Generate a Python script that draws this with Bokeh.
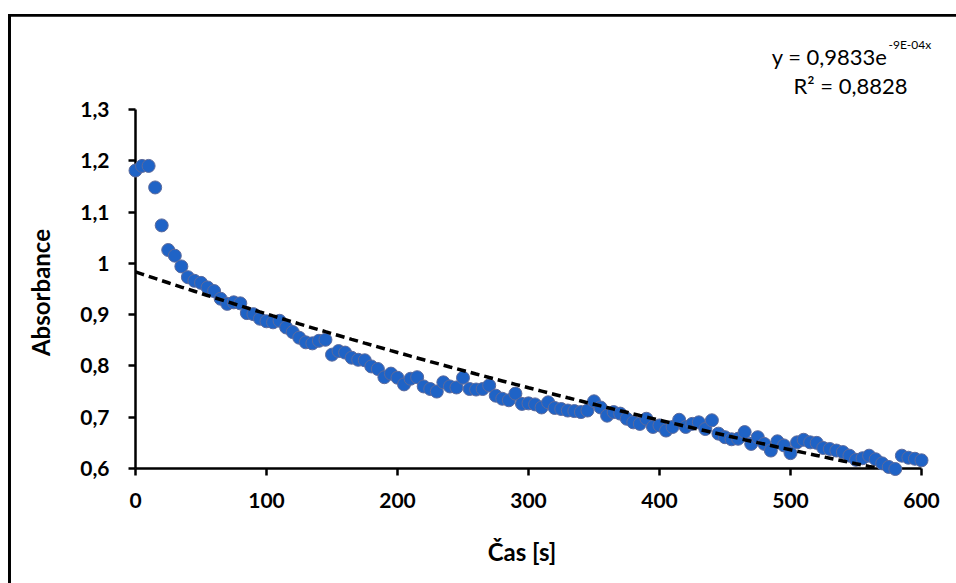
import math
import numpy as np
from bokeh.plotting import figure
from bokeh.models import Range1d, FixedTicker, Label, BoxAnnotation
from bokeh.embed import file_html
from bokeh.resources import INLINE

# ---- data ----
time_s = list(range(0, 601, 5))
absorbance = [
    1.181, 1.190, 1.190, 1.148, 1.074, 1.026, 1.015, 0.994, 0.973, 0.966,
    0.962, 0.953, 0.946, 0.931, 0.921, 0.924, 0.922, 0.903, 0.901, 0.892,
    0.887, 0.885, 0.888, 0.875, 0.866, 0.855, 0.846, 0.844, 0.849, 0.851,
    0.822, 0.829, 0.826, 0.816, 0.812, 0.811, 0.799, 0.794, 0.778, 0.785,
    0.777, 0.764, 0.775, 0.778, 0.760, 0.755, 0.750, 0.768, 0.760, 0.758,
    0.777, 0.755, 0.754, 0.755, 0.762, 0.742, 0.736, 0.733, 0.746, 0.726,
    0.727, 0.725, 0.719, 0.729, 0.718, 0.716, 0.713, 0.712, 0.710, 0.713,
    0.731, 0.719, 0.703, 0.710, 0.707, 0.697, 0.690, 0.687, 0.697, 0.681,
    0.684, 0.674, 0.681, 0.695, 0.681, 0.687, 0.690, 0.677, 0.694, 0.668,
    0.661, 0.657, 0.658, 0.671, 0.648, 0.661, 0.648, 0.635, 0.653, 0.645,
    0.630, 0.651, 0.656, 0.651, 0.650, 0.640, 0.638, 0.635, 0.632, 0.625,
    0.617, 0.620, 0.625, 0.618, 0.610, 0.603, 0.599, 0.625, 0.621, 0.619,
    0.616,
]
x_ticks = [0, 100, 200, 300, 400, 500, 600]
x_tick_labels = ["0", "100", "200", "300", "400", "500", "600"]
y_ticks = [0.6, 0.7, 0.8, 0.9, 1.0, 1.1, 1.2, 1.3]
y_tick_labels = ["0,6", "0,7", "0,8", "0,9", "1", "1,1", "1,2", "1,3"]
x_axis_bounds = (0, 600)
y_axis_bounds = (0.6, 1.3)
fit_a = 0.9833
fit_k = 0.00087
equation_main = "y = 0,9833e"
equation_exp = "-9E-04x"
r2_text = "R\u00b2 = 0,8828"
x_title = "\u010cas [s]"
y_title = "Absorbance"

FONT = "Lato"
W, H = 956, 583
PX_X = 1.31      # pixels per second
PX_Y = 512.86    # pixels per absorbance unit
X_START = -135 / PX_X
X_END = X_START + W / PX_X
Y_END = 0.6 + 468 / PX_Y
Y_START = Y_END - H / PX_Y

# The plot frame covers the whole canvas; the axes are drawn at fixed
# positions inside it (x axis at y=0.6, y axis at x=0).
p = figure(width=W, height=H, output_backend="svg", toolbar_location=None,
           title=None,
           x_range=Range1d(X_START, X_END), y_range=Range1d(Y_START, Y_END),
           min_border_left=0, min_border_top=0,
           min_border_right=0, min_border_bottom=0)
p.styles = {"overflow": "hidden"}
p.outline_line_color = None
p.background_fill_color = "white"
p.border_fill_color = "white"
p.xgrid.visible = False
p.ygrid.visible = False

for ax in (p.xaxis[0], p.yaxis[0]):
    ax.axis_line_width = 2.5
    ax.axis_line_color = "black"
    ax.major_tick_line_width = 2.5
    ax.major_tick_line_color = "black"
    ax.major_tick_out = 7
    ax.major_tick_in = 0
    ax.minor_tick_line_color = None
    ax.major_label_text_font = FONT
    ax.major_label_text_font_style = "bold"
    ax.major_label_text_font_size = "21px"
    ax.major_label_text_color = "black"

xa = p.xaxis[0]
ya = p.yaxis[0]
xa.fixed_location = y_axis_bounds[0]
ya.fixed_location = x_axis_bounds[0]
xa.bounds = x_axis_bounds
ya.bounds = y_axis_bounds
xa.ticker = FixedTicker(ticks=x_ticks)
xa.major_label_overrides = dict(zip(x_ticks, x_tick_labels))
ya.ticker = FixedTicker(ticks=y_ticks)
ya.major_label_overrides = dict(zip(y_ticks, y_tick_labels))
xa.major_label_standoff = 17
ya.major_label_standoff = 19

# chart-area border (top and left edges visible in the reference)
p.add_layout(BoxAnnotation(left=-97.33, right=-95.04, top=1.48621, bottom=Y_START,
                           fill_color="black", fill_alpha=1.0, line_color=None,
                           line_alpha=0))
p.add_layout(BoxAnnotation(left=-97.33, right=X_END, top=1.48621, bottom=1.48075,
                           fill_color="black", fill_alpha=1.0, line_color=None,
                           line_alpha=0))

sc = p.scatter(time_s, absorbance, size=13, fill_color="#1F63C6",
               line_color="#5C6A9C", line_width=1)
sc.level = "overlay"

# exponential trendline, stopped where it leaves the plot area (y = 0.6)
x_cut = math.log(fit_a / y_axis_bounds[0]) / fit_k
t = np.array([v for v in time_s if v < x_cut] + [x_cut], dtype=float)
trend = fit_a * np.exp(-fit_k * t)
ln = p.line(t, trend, line_color="black", line_width=3.5, line_dash="9 5")
ln.level = "overlay"

common = dict(text_font=FONT, text_color="black")
p.add_layout(Label(x=574.05, y=1.40334, text=equation_main, text_align="right",
                   text_baseline="alphabetic", text_font_size="22px", **common))
p.add_layout(Label(x=574.8, y=1.42674, text=equation_exp, text_align="left",
                   text_baseline="alphabetic", text_font_size="12px", **common))
p.add_layout(Label(x=545.8, y=1.34680, text=r2_text, text_align="center",
                   text_baseline="alphabetic", text_font_size="22px", **common))
p.add_layout(Label(x=295.04, y=0.43817, text=x_title, text_align="center",
                   text_baseline="alphabetic", text_font_size="24px",
                   text_font_style="bold", **common))
p.add_layout(Label(x=-72.5, y=0.94317, text=y_title, text_align="center",
                   text_baseline="middle", angle=math.pi / 2,
                   text_font_size="24px", text_font_style="bold", **common))

open("out.html", "w").write(file_html(p, INLINE))
